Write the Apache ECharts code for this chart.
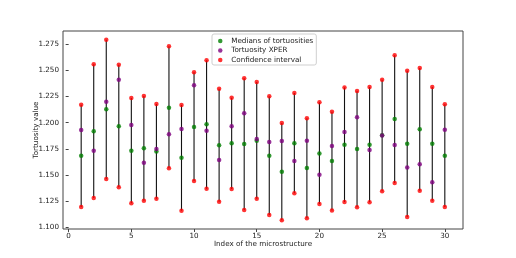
<!DOCTYPE html>
<html><head><meta charset="utf-8">
<script src="https://cdn.jsdelivr.net/npm/echarts@6/dist/echarts.min.js"></script>
<style>html,body{margin:0;padding:0;background:#fff}#c{width:516px;height:258px}</style>
</head><body><div id="c"></div>
<script>
const indices = [1,2,3,4,5,6,7,8,9,10,11,12,13,14,15,16,17,18,19,20,21,22,23,24,25,26,27,28,29,30];
const medians = [1.1685,1.1918,1.2128,1.1966,1.1733,1.1755,1.1726,1.2144,1.1666,1.1959,1.1985,1.1784,1.1803,1.1797,1.1828,1.1685,1.1532,1.1803,1.1567,1.1707,1.1634,1.1790,1.1749,1.1790,1.1880,1.2036,1.1800,1.1937,1.1800,1.1685];
const xper = [1.1930,1.1733,1.2201,1.2412,1.1978,1.1618,1.1749,1.1889,1.1940,1.2358,1.1924,1.1644,1.1966,1.2090,1.1844,1.1816,1.1825,1.1634,1.1828,1.1503,1.1777,1.1911,1.2052,1.1739,1.1879,1.1787,1.1573,1.1602,1.1430,1.1934];
const ciLow = [1.1194,1.1280,1.1462,1.1382,1.1229,1.1254,1.1274,1.1564,1.1159,1.1443,1.1369,1.1245,1.1366,1.1165,1.1274,1.1118,1.1067,1.1325,1.1086,1.1223,1.1162,1.1242,1.1191,1.1239,1.1344,1.1424,1.1098,1.1350,1.1254,1.1194];
const ciHigh = [1.2173,1.2558,1.2794,1.2555,1.2236,1.2256,1.2179,1.2731,1.2170,1.2482,1.2597,1.2326,1.2240,1.2425,1.2390,1.2252,1.1997,1.2284,1.2042,1.2195,1.2106,1.2338,1.2303,1.2342,1.2412,1.2644,1.2498,1.2523,1.2342,1.2176];
const xTicks = [0,5,10,15,20,25,30];
const yTicks = [1.100,1.125,1.150,1.175,1.200,1.225,1.250,1.275];

const font = 'DejaVu Sans';
const chart = echarts.init(document.getElementById('c'), null, {renderer:'canvas'});
const ciPoints = [];
indices.forEach((x,i)=>{ ciPoints.push([x, ciLow[i]]); ciPoints.push([x, ciHigh[i]]); });
chart.setOption({
  animation:false,
  backgroundColor:'#fff',
  grid:{left:63,top:31,width:400,height:198,show:true,borderColor:'#444',borderWidth:1,backgroundColor:'transparent',containLabel:false},
  legend:{
    left:212, top:34, orient:'vertical', itemGap:1.5, itemWidth:12, itemHeight:4.5,
    padding:[3,3,1,6], borderColor:'#cfcfcf', borderWidth:1, borderRadius:2,
    textStyle:{fontFamily:font,fontSize:7.2,lineHeight:8,color:'#222'},
    data:[{name:'Medians of tortuosities',icon:'circle'},{name:'Tortuosity XPER',icon:'circle'},{name:'Confidence interval',icon:'circle'}]
  },
  xAxis:{type:'value',min:-0.45,max:31.45,
    name:'Index of the microstructure',nameLocation:'middle',nameGap:12,nameMoveOverlap:false,
    nameTextStyle:{fontFamily:font,fontSize:7.2,color:'#222'},
    axisLine:{show:false},splitLine:{show:false},
    axisTick:{show:true,inside:false,length:3,lineStyle:{color:'#444'},customValues:xTicks},
    axisLabel:{fontFamily:font,fontSize:7.2,color:'#222',margin:4,customValues:xTicks,formatter:v=>String(v)}
  },
  yAxis:{type:'value',min:1.0984,max:1.2877,
    name:'Tortuosity value',nameLocation:'middle',nameGap:23,nameRotate:90,nameMoveOverlap:false,
    nameTextStyle:{fontFamily:font,fontSize:7.2,color:'#222'},
    axisLine:{show:false},splitLine:{show:false},
    axisTick:{show:true,inside:false,length:3,lineStyle:{color:'#444'},customValues:yTicks},
    axisLabel:{fontFamily:font,fontSize:7.2,color:'#222',margin:4,customValues:yTicks,formatter:v=>v.toFixed(3)}
  },
  series:[
    {type:'custom',name:'ci-lines',silent:true,
      data:indices.map((x,i)=>[x,ciLow[i],ciHigh[i]]),
      encode:{x:0,y:[1,2]},
      renderItem:(params,api)=>{
        const p1=api.coord([api.value(0),api.value(1)]);
        const p2=api.coord([api.value(0),api.value(2)]);
        return {type:'line',shape:{x1:p1[0],y1:p1[1],x2:p2[0],y2:p2[1]},style:{stroke:'#111',lineWidth:1.1}};
      }},
    {type:'scatter',name:'Medians of tortuosities',symbolSize:4.5,itemStyle:{color:'#008000'},
      data:indices.map((x,i)=>[x,medians[i]])},
    {type:'scatter',name:'Tortuosity XPER',symbolSize:4.5,itemStyle:{color:'#800080'},
      data:indices.map((x,i)=>[x,xper[i]])},
    {type:'scatter',name:'Confidence interval',symbolSize:4.5,itemStyle:{color:'#ff0000'},
      data:ciPoints}
  ]
});
</script></body></html>
